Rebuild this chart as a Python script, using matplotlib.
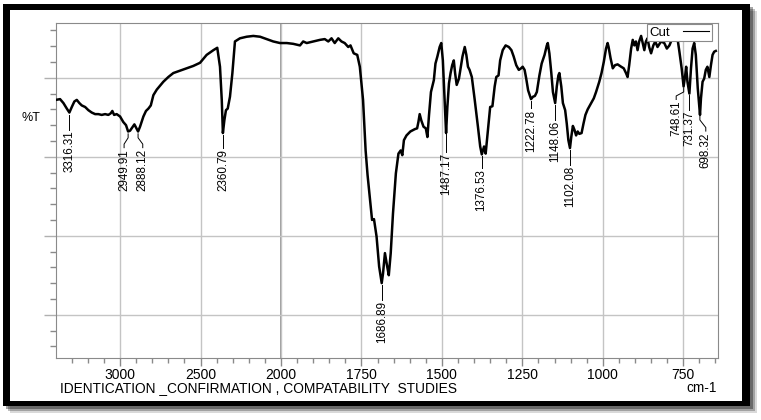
import numpy as np
import matplotlib
matplotlib.use("Agg")
import matplotlib.pyplot as plt
from matplotlib.patches import Rectangle
from matplotlib.ticker import FixedLocator, NullFormatter

plt.rcParams['font.family'] = ['Liberation Sans', 'DejaVu Sans']

# spectrum (wavenumber in cm-1, %T in arbitrary units)
wavenumber = [
    3399, 3373, 3352, 3331, 3315, 3300, 3284, 3269, 3253, 3238, 3217, 3197, 3176, 3155,
    3135, 3114, 3093, 3073, 3058, 3048, 3037, 3021, 3000, 2980, 2963, 2950, 2938, 2921,
    2911, 2901, 2888, 2876, 2855, 2839, 2824, 2809, 2793, 2772, 2731, 2700, 2669, 2627,
    2586, 2545, 2503, 2462, 2420, 2396, 2379, 2368, 2361, 2352, 2342, 2331, 2317, 2302,
    2286, 2255, 2213, 2172, 2130, 2089, 2048, 2006,
    1982, 1962, 1941, 1931, 1920, 1900, 1879, 1864, 1853, 1843, 1833, 1822, 1812, 1802,
    1791, 1784, 1774, 1763, 1755, 1745, 1737, 1731, 1724, 1717, 1711, 1703, 1695, 1687,
    1683, 1677, 1670, 1665, 1659, 1652, 1643, 1635, 1628, 1623, 1618, 1610, 1598, 1584,
    1577, 1573, 1569, 1564, 1557, 1550, 1545, 1540, 1534, 1525, 1520, 1514, 1507, 1502,
    1497, 1491, 1487, 1483, 1478, 1473, 1468, 1463, 1459, 1454, 1447, 1436, 1429, 1424,
    1419, 1414, 1407, 1398, 1388, 1381, 1376, 1369, 1364, 1357, 1350, 1343, 1336, 1331,
    1324, 1319, 1311, 1302, 1292, 1284, 1277, 1269, 1261, 1254, 1249, 1243, 1238, 1232,
    1223, 1217, 1211, 1205, 1197, 1190, 1181, 1174, 1171, 1166, 1160, 1155, 1148, 1143,
    1138, 1135, 1129, 1124, 1117, 1112, 1107, 1102, 1098, 1093, 1088, 1083, 1078, 1073,
    1066, 1060, 1054, 1047, 1028, 1021, 1011, 1004, 997, 990, 985, 982, 976, 969,
    962, 954, 943, 935, 928, 923, 918, 912, 907, 902, 897, 892, 887, 881,
    876, 871, 866, 861, 856, 850, 843, 837, 830, 819, 809, 801, 793, 786,
    780, 773, 768, 762, 755, 749, 744, 741, 737, 731, 726, 721, 716, 711,
    705, 698, 695, 690, 685, 680, 675, 669, 664, 659, 654, 649,
]
transmittance = [
    37.2, 37.3, 36.8, 36.1, 35.6, 36.3, 37.0, 37.2, 36.8, 36.5, 36.3, 35.9, 35.6, 35.4,
    35.4, 35.3, 35.4, 35.3, 35.5, 35.8, 35.3, 35.4, 35.1, 34.4, 34.0, 33.2, 33.3, 33.8,
    34.1, 33.7, 33.2, 33.8, 35.1, 35.8, 36.1, 36.5, 37.8, 38.5, 39.5, 40.1, 40.6, 40.9,
    41.2, 41.5, 41.9, 42.9, 43.5, 43.8, 41.4, 37.2, 33.0, 34.6, 35.9, 36.1, 37.6, 40.6,
    44.6, 45.0, 45.2, 45.3, 45.2, 44.9, 44.6, 44.4,
    44.4, 44.3, 44.1, 44.6, 44.4, 44.6, 44.8, 44.9, 44.6, 45.0, 44.4, 45.0, 44.6, 44.4,
    43.9, 44.1, 43.1, 42.9, 41.4, 37.2, 30.8, 27.7, 24.9, 22.0, 22.1, 19.9, 16.1, 14.0,
    15.2, 17.8, 16.1, 15.0, 17.8, 22.8, 27.9, 30.4, 30.8, 30.2, 32.1, 32.7, 33.2, 33.5,
    33.6, 34.4, 35.4, 34.6, 33.8, 33.6, 32.5, 35.3, 38.2, 39.7, 41.8, 42.7, 43.9, 44.4,
    42.2, 36.8, 33.0, 36.3, 39.3, 40.6, 41.6, 42.2, 40.6, 39.1, 39.9, 42.7, 43.9, 42.9,
    41.4, 41.0, 40.1, 37.2, 33.8, 31.3, 30.3, 31.3, 30.4, 33.4, 36.3, 36.4, 38.9, 40.1,
    40.3, 42.2, 43.5, 44.1, 43.9, 43.5, 42.7, 41.6, 41.0, 41.2, 41.4, 41.0, 39.9, 38.4,
    37.3, 37.6, 37.7, 38.2, 40.3, 41.8, 42.9, 44.1, 44.4, 43.1, 40.6, 38.2, 36.8, 38.9,
    40.3, 40.6, 38.9, 36.8, 35.9, 34.2, 32.1, 31.1, 32.5, 33.9, 33.4, 32.7, 33.2, 32.9,
    33.0, 34.2, 35.3, 36.0, 37.4, 38.2, 39.5, 40.6, 42.0, 43.7, 44.4, 43.9, 42.5, 41.2,
    41.6, 41.7, 41.4, 41.2, 40.6, 40.1, 41.6, 43.7, 44.8, 44.1, 44.6, 43.5, 44.6, 45.3,
    44.4, 43.5, 44.6, 45.0, 43.9, 43.1, 44.1, 44.6, 43.9, 44.6, 44.4, 43.7, 44.1, 44.8,
    45.0, 45.2, 45.0, 43.3, 41.2, 38.9, 40.3, 41.4, 39.5, 38.0, 41.2, 43.7, 44.4, 42.9,
    38.7, 35.3, 37.4, 39.5, 39.9, 41.0, 41.4, 40.1, 41.6, 42.9, 43.3, 43.4,
]

# labelled peaks
peak_wn = [3316.31, 2949.91, 2888.12, 2360.79, 1686.89, 1487.17, 1376.53,
           1222.78, 1148.06, 1102.08, 748.61, 731.37, 698.32]
label_wn = [3316.31, 2975, 2859, 2360.79, 1686.89, 1487.17, 1376.53,
            1222.78, 1148.06, 1102.08, 772, 731.37, 680]
label_top = [33.3, 31.0, 31.0, 31.0, 11.7, 30.5, 28.4, 36.0, 34.5, 28.8, 37.1, 35.8, 33.1]

major_wn = [3000, 2500, 2000, 1750, 1500, 1250, 1000, 750]


# the x axis is expanded 2x below 2000 cm-1
def fwd(w):
    w = np.asarray(w, dtype=float)
    return np.where(w >= 2000, w, 2 * w - 2000)


def inv(u):
    u = np.asarray(u, dtype=float)
    return np.where(u >= 2000, u, (u + 2000) / 2)


W, H = 761, 420
fig = plt.figure(figsize=(W / 100, H / 100), dpi=100)

# framed border with a soft shadow
for off, a in [(7, 0.15), (5, 0.25), (3, 0.35)]:
    fig.add_artist(Rectangle(((3 + off) / W, 1 - (406 + off) / H), 747 / W, 402 / H,
                             transform=fig.transFigure, color='black', alpha=a,
                             lw=0, zorder=-12))
fig.add_artist(Rectangle((3 / W, 1 - 406 / H), 747 / W, 402 / H,
                         transform=fig.transFigure, color='black', lw=0, zorder=-11))
fig.add_artist(Rectangle((9.5 / W, 1 - 401 / H), 732.5 / W, 391 / H,
                         transform=fig.transFigure, color='white', lw=0, zorder=-10))

ax = fig.add_axes([55.7 / W, 1 - 358.3 / H, 662 / W, 335 / H])
ax.set_xscale('function', functions=(fwd, inv))
ax.set_xlim(3400, 643)
ax.set_ylim(4.48, 46.9)

grid_c = '#c4c4c4'
ax.xaxis.set_major_locator(FixedLocator(major_wn))
minor = list(range(3300, 2000, -100)) + list(range(1950, 640, -50))
ax.xaxis.set_minor_locator(FixedLocator([m for m in minor if m not in major_wn]))
ax.xaxis.set_minor_formatter(NullFormatter())
ax.set_xticklabels([str(v) for v in major_wn])
ax.yaxis.set_major_locator(FixedLocator([10, 20, 30, 40]))
ax.yaxis.set_minor_locator(FixedLocator([v for v in range(6, 47, 2) if v % 10]))
ax.set_yticklabels([])

ax.tick_params(axis='x', which='major', length=6, width=1, color='#8a8a8a',
               labelsize=10, pad=1)
ax.tick_params(axis='x', which='minor', length=3.5, width=1, color='#8a8a8a')
ax.tick_params(axis='y', which='major', length=9, width=1, color='#b0b0b0')
ax.tick_params(axis='y', which='minor', length=4.5, width=1, color='#8a8a8a')
for s in ax.spines.values():
    s.set_color('#8a8a8a')
ax.grid(True, which='major', color=grid_c, lw=1)
ax.axvline(2000, color='#8a8a8a', lw=1.2, zorder=1)

ax.plot(wavenumber, transmittance, color='black', lw=1.8, zorder=3, label='Cut')

# peak labels with leader lines
wn_r = np.array(wavenumber[::-1], dtype=float)
tr_r = np.array(transmittance[::-1], dtype=float)
for pw, lw_, top in zip(peak_wn, label_wn, label_top):
    tmin = np.interp(pw, wn_r, tr_r)
    ax.plot([pw, pw, lw_, lw_], [tmin - 0.3, tmin - 0.8, top + 0.6, top + 0.15],
            color='black', lw=0.7, zorder=2)
    ax.text(lw_, top, f'{pw:.2f}', rotation=90, ha='center', va='top',
            fontsize=8.4, zorder=4)

leg = ax.legend(loc='upper right', bbox_to_anchor=(0.991, 0.997), markerfirst=False,
                fontsize=9.5, handlelength=2.0, handletextpad=1.0, borderpad=0.18,
                borderaxespad=0, fancybox=False, framealpha=1)
leg.get_frame().set_edgecolor('#8a8a8a')
leg.get_frame().set_linewidth(0.8)
leg.get_lines()[0].set_linewidth(0.8)

fig.text(31 / W, 1 - 118 / H, '%T', ha='center', va='center', fontsize=9)
fig.text(60 / W, 1 - 388 / H, 'IDENTICATION _CONFIRMATION , COMPATABILITY  STUDIES',
         ha='left', va='center', fontsize=9.9)
fig.text(717 / W, 1 - 388 / H, 'cm-1', ha='right', va='center', fontsize=9.9)

fig.savefig('out.png', dpi=100)
